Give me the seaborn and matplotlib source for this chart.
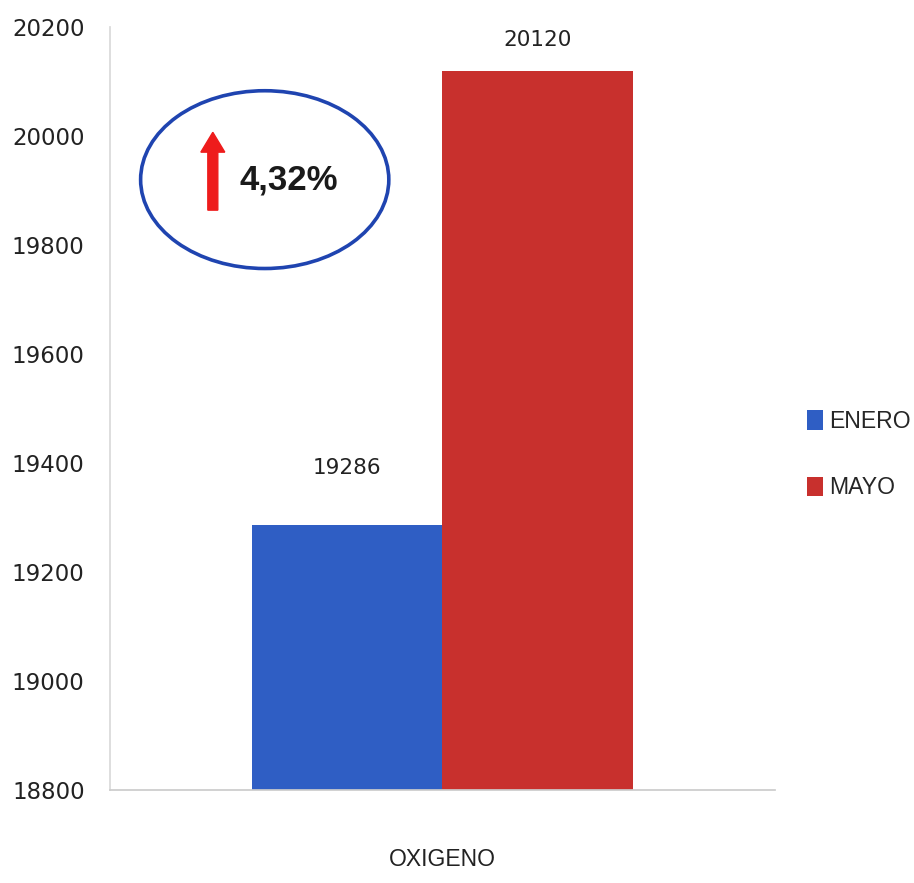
import matplotlib
matplotlib.use("Agg")
import matplotlib.pyplot as plt
import seaborn as sns
import pandas as pd
from matplotlib.patches import Ellipse, FancyArrow

categories = ["OXIGENO"]
series = ["ENERO", "MAYO"]
values = [19286, 20120]
colors = ["#2F5EC4", "#C8302D"]
yticks = [18800, 19000, 19200, 19400, 19600, 19800, 20000, 20200]
badge_text = "4,32%"

df = pd.DataFrame({"cat": categories * len(series), "serie": series, "valor": values})

sns.set_theme(style="white")
plt.rcParams["font.family"] = ["DejaVu Sans"]
narrow = ["Liberation Sans", "DejaVu Sans"]

fig = plt.figure(figsize=(9.14, 8.83), dpi=100)
ax = fig.add_axes([0.120, 0.1053, 0.728, 0.8641])

sns.barplot(data=df, x="cat", y="valor", hue="serie", palette=colors,
            width=0.572, dodge=True, ax=ax, saturation=1, linewidth=0,
            legend=True)

ax.set_ylim(yticks[0], yticks[-1])
ax.set_xlim(-0.5, 0.5)
ax.set_yticks(yticks)
ax.set_yticklabels([str(t) for t in yticks], fontsize=16.5, color="#222222")
ax.tick_params(axis="y", length=5, color="#cccccc", direction="out", pad=13)
ax.tick_params(axis="x", length=0, pad=42, colors="#222222")
for lbl in ax.get_xticklabels():
    lbl.set_fontfamily(narrow)
    lbl.set_fontsize(16.5)
ax.set_xlabel("")
ax.set_ylabel("")
for s in ["top", "right"]:
    ax.spines[s].set_visible(False)
ax.spines["left"].set_color("#d9d9d9")
ax.spines["bottom"].set_color("#cccccc")

pads = [34, 15]
for cont, p in zip(ax.containers, pads):
    ax.bar_label(cont, labels=[f"{int(round(v))}" for v in cont.datavalues],
                 padding=p, fontsize=15.5, color="#222222")

handles, labels = ax.get_legend_handles_labels()
leg = ax.legend(handles, labels, loc="center left",
                bbox_to_anchor=(0.883, 0.4853), bbox_transform=fig.transFigure,
                borderaxespad=0, borderpad=0,
                frameon=False, labelspacing=1.9, handlelength=0.7,
                handleheight=0.95, handletextpad=0.25,
                prop={"family": narrow, "size": 16.6})

ell = Ellipse((0.233, 0.80), 0.373, 0.233, transform=ax.transAxes,
              fill=False, edgecolor="#1F44B0", linewidth=2.6)
ax.add_patch(ell)
arrow = FancyArrow(0.155, 0.760, 0, 0.102, width=0.015, head_width=0.036,
                   head_length=0.026, transform=ax.transAxes, color="#EE1C1C",
                   length_includes_head=True)
ax.add_patch(arrow)
ax.text(0.195, 0.80, badge_text, transform=ax.transAxes, fontsize=25,
        fontweight="bold", family=narrow, va="center", ha="left",
        color="#1a1a1a")

fig.savefig("out.png", dpi=100)
